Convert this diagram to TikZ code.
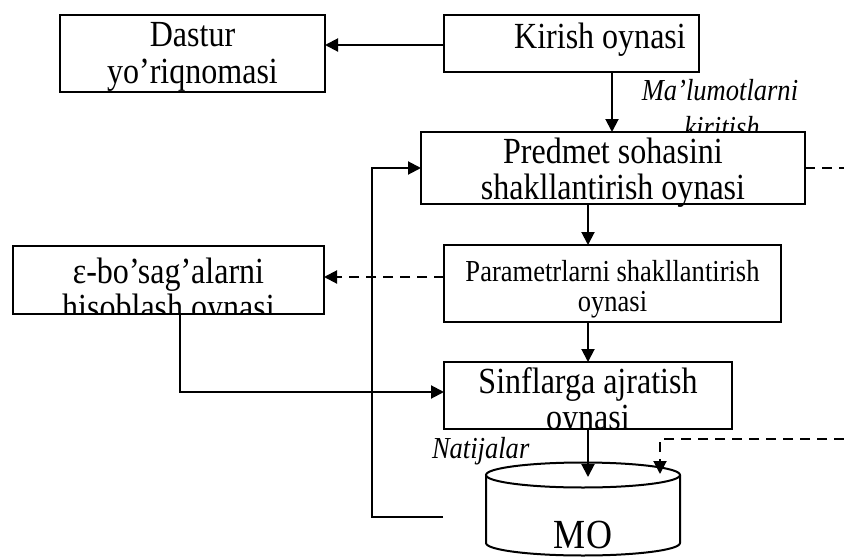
\documentclass[tikz,border=0pt]{standalone}
\usepackage{fontspec}
\setmainfont[FakeStretch=0.87]{Liberation Serif}
\usetikzlibrary{arrows.meta}
\begin{document}
\begin{tikzpicture}[x=1pt, y=-1pt, line width=2pt,
  box/.style={draw, fill=white, rectangle, inner sep=0pt, outer sep=0pt},
  arr/.style={-{Triangle[length=13pt,width=13pt]}},
  dashline/.style={dash pattern=on 10pt off 7pt},
  big/.style={font=\fontsize{36.8}{40}\selectfont, inner sep=0pt, anchor=base},
  mid/.style={font=\fontsize{30.5}{34}\selectfont, inner sep=0pt, anchor=base},
  lbl/.style={font=\fontsize{30.5}{34}\selectfont\itshape, inner sep=0pt, anchor=base},
]
\useasboundingbox (0,0) rectangle (844,557);

% label under the first window, partly hidden by the next box
\node[lbl] (lab1) at (720,100) {Ma’lumotlarni};
\node[lbl] (lab2) at (722,137) {kiritish};

% window boxes
\node[box, minimum width=265pt, minimum height=77pt] (dastur)  at (192.5,53.5) {};
\node[box, minimum width=255pt, minimum height=57pt] (kirish)  at (571.5,43.5) {};
\node[box, minimum width=384pt, minimum height=72pt] (predmet) at (613,168) {};
\node[box, minimum width=337pt, minimum height=77pt] (param)   at (612.5,283.5) {};
\node[box, minimum width=311pt, minimum height=68pt] (eps)     at (168.5,280) {};
\node[box, minimum width=288pt, minimum height=67pt] (sinf)    at (588,395.5) {};

% box texts
\node[big] (t1a) at (192.5,46) {Dastur};
\node[big] (t1b) at (192.5,83) {yo’riqnomasi};
\node[big] (t2)  at (600,48) {Kirish oynasi};
\node[big] (t3a) at (613,163) {Predmet sohasini};
\node[big] (t3b) at (613,199) {shakllantirish oynasi};
\node[mid] (t4a) at (612.5,281) {Parametrlarni shakllantirish};
\node[mid] (t4b) at (612.5,311) {oynasi};
\begin{scope}
  \clip (eps.north west) rectangle (eps.south east);
  \node[big] (t5a) at (168.5,283) {ε-bo’sag’alarni};
  \node[big] (t5b) at (168.5,319) {hisoblash oynasi};
\end{scope}
\begin{scope}
  \clip (sinf.north west) rectangle (sinf.south east);
  \node[big] (t6a) at (588,393) {Sinflarga ajratish};
  \node[big] (t6b) at (588,429) {oynasi};
\end{scope}
\node[lbl, anchor=base west] (lab3) at (431,458) {Natijalar};

% database cylinder
\draw[fill=white] (486,475) -- (486,543)
  arc[start angle=180, end angle=0, x radius=97, y radius=12.5] -- (680,475);
\draw (583,475) ellipse [x radius=97, y radius=12.5];
\node[font=\fontsize{41.4}{45}\selectfont, inner sep=0pt, anchor=base] (mo) at (583,548) {MO};
\coordinate (motop) at (588,477);
\coordinate (motop2) at (660,474);
\coordinate (mofeed) at (443,517);
\coordinate (rin) at (844,439);
\coordinate (rout) at (844,168);

% connectors
\draw[arr] ([yshift=-1.5pt]kirish.west) -- ([yshift=-1.5pt]kirish.west -| dastur.east);
\draw[arr] ([xshift=40.5pt]kirish.south) -- ([xshift=40.5pt]kirish.south |- predmet.north);
\draw[arr] ([xshift=-25pt]predmet.south) -- ([xshift=-25pt]predmet.south |- param.north);
\draw[arr] (param.south -| sinf.north) -- (sinf.north);
\draw[arr] (sinf.south) -- (motop);
\draw[arr, dashline] ([yshift=6.5pt]param.west) -- ([yshift=6.5pt]param.west -| eps.east);
\draw[arr] ([xshift=11.5pt]eps.south) |- ([yshift=3.5pt]sinf.west);
\draw[arr] (mofeed) -- (372,517) |- (predmet.west);
\draw[dashline] (predmet.east) -- (rout);
\draw[arr, dashline] (rin) -| (motop2);
\end{tikzpicture}
\end{document}
